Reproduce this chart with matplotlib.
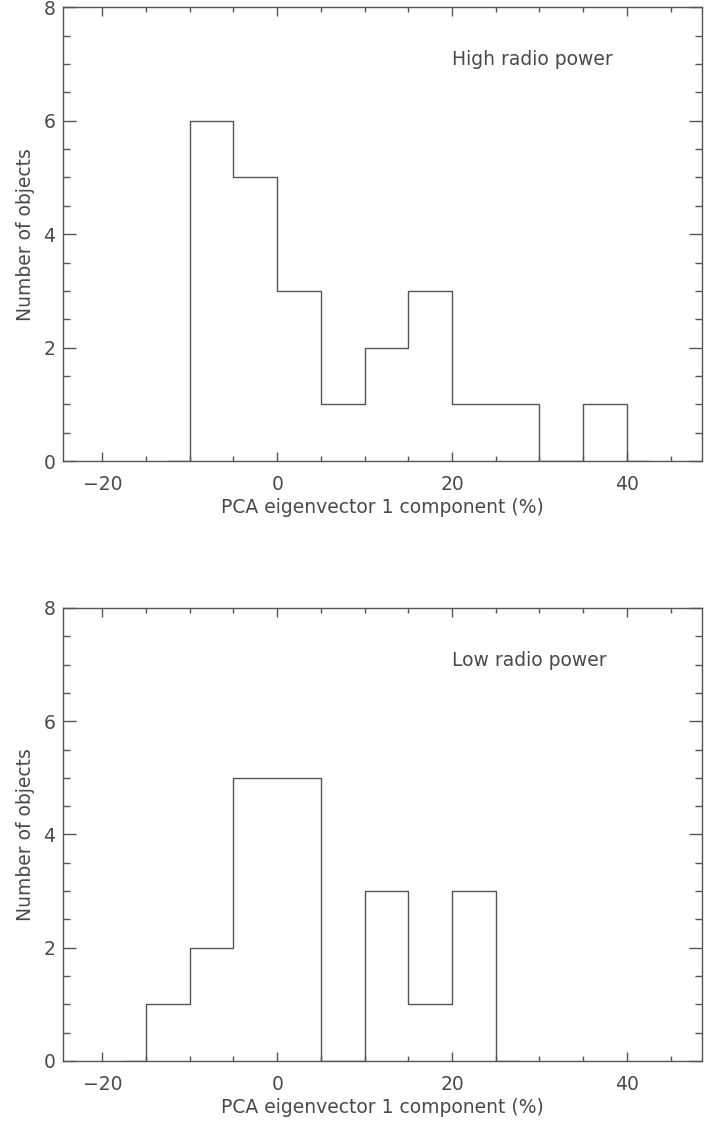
import numpy as np
import matplotlib
matplotlib.use("Agg")
import matplotlib.pyplot as plt
from matplotlib.ticker import MultipleLocator

# bin centres (%) and counts, drawn IDL psym=10 style
high_centres = [-12.5, -7.5, -2.5, 2.5, 7.5, 12.5, 17.5, 22.5, 27.5, 32.5, 37.5, 42.5]
high_counts = [0, 6, 5, 3, 1, 2, 3, 1, 1, 0, 1, 0]

low_centres = [-17.5, -12.5, -7.5, -2.5, 2.5, 7.5, 12.5, 17.5, 22.5, 27.5]
low_counts = [0, 1, 2, 5, 5, 0, 3, 1, 3, 0]

panel_labels = ["High radio power", "Low radio power"]
xlabel = "PCA eigenvector 1 component (%)"
ylabel = "Number of objects"

line_col = "#555555"
text_col = "#4a4a4a"

plt.rcParams.update({
    "font.family": "DejaVu Sans",
    "font.size": 13.5,
    "axes.edgecolor": line_col,
    "axes.linewidth": 1.0,
    "xtick.color": line_col,
    "ytick.color": line_col,
    "xtick.labelcolor": text_col,
    "ytick.labelcolor": text_col,
})


def psym10(ax, x, y):
    # histogram steps with half-bin ends, like IDL psym=10
    x = np.asarray(x, float)
    y = np.asarray(y, float)
    edges = np.concatenate([[x[0]], (x[:-1] + x[1:]) / 2, [x[-1]]])
    xs = np.repeat(edges, 2)[1:-1]
    ys = np.repeat(y, 2)
    ax.plot(xs, ys, color=line_col, lw=1.0)


fig = plt.figure(figsize=(7.07, 11.25), dpi=100)
ax1 = fig.add_axes([0.0891, 0.590, 0.904, 0.4036])
ax2 = fig.add_axes([0.0891, 0.0569, 0.904, 0.4027])

for ax, cx, cy, lab in [(ax1, high_centres, high_counts, panel_labels[0]),
                        (ax2, low_centres, low_counts, panel_labels[1])]:
    psym10(ax, cx, cy)
    ax.set_xlim(-24.5, 48.6)
    ax.set_ylim(0, 8)
    ax.xaxis.set_major_locator(MultipleLocator(20))
    ax.xaxis.set_minor_locator(MultipleLocator(5))
    ax.yaxis.set_major_locator(MultipleLocator(2))
    ax.yaxis.set_minor_locator(MultipleLocator(0.5))
    ax.tick_params(which="both", direction="in", top=True, right=True, width=1.0)
    ax.tick_params(axis="x", which="major", length=6.5, pad=10)
    ax.tick_params(axis="x", which="minor", length=3.6)
    ax.tick_params(axis="y", which="major", length=9.4, pad=5.5)
    ax.tick_params(axis="y", which="minor", length=5)
    ax.xaxis.set_major_formatter(plt.FuncFormatter(
        lambda v, p: f"{v:.0f}".replace("-", "\u2212")))
    ax.set_xlabel(xlabel, color=text_col, labelpad=3)
    ax.set_ylabel(ylabel, color=text_col, labelpad=6)
    ax.text(20, 7.08, lab, color=text_col, ha="left", va="center")

fig.savefig("out.png", dpi=100)
